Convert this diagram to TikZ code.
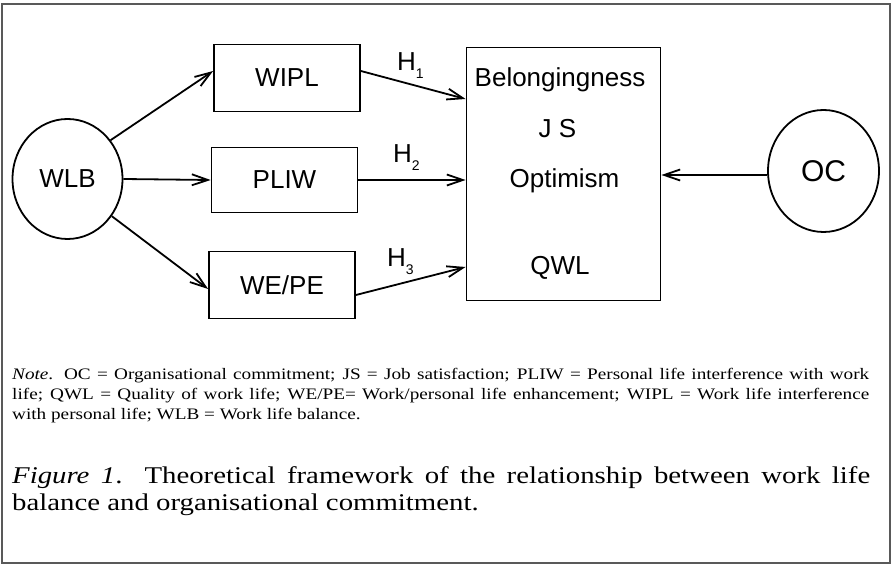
\documentclass[tikz,border=0pt]{standalone}
\usepackage{fontspec}
\setmainfont{Liberation Sans}
\newfontfamily\notefont[FakeStretch = 1.2]{Liberation Serif}
\usetikzlibrary{shapes.geometric, arrows.meta}

\newcommand{\hsub}[1]{H\raisebox{-7.3pt}{\fontsize{14}{14}\selectfont #1}}

\begin{document}
\begin{tikzpicture}[x = 1pt, y = -1pt,
                    latent/.style = {shape = ellipse, draw, line width = 1.8pt,
                                     inner sep = 0pt, font = \fontsize{26}{31}\selectfont},
                    factor/.style = {shape = rectangle, draw, line width = 1.8pt,
                                     inner sep = 0pt, font = \fontsize{26}{31}\selectfont},
                    txt/.style = {inner sep = 0pt, font = \fontsize{26}{31}\selectfont},
                    link/.style = {-{Straight Barb[length = 16pt, width = 11pt]},
                                   line width = 1.8pt}]
  \useasboundingbox (0, 0) rectangle (892, 564);
  \draw [line width = 2pt, black!65] (2, 3.7) rectangle (889.5, 562.8);

  \node [latent, minimum width = 110pt, minimum height = 120pt] (wlb) at (67.5, 179) {WLB};
  \node [latent, minimum width = 111pt, minimum height = 122pt,
         font = \fontsize{30}{36}\selectfont] (oc) at (823.5, 171) {OC};

  \node [factor, minimum width = 146pt, minimum height = 67pt] (wipl) at (287, 78) {WIPL};
  \node [factor, minimum width = 146pt, minimum height = 65pt] (pliw) at (284.5, 180) {PLIW};
  \node [factor, minimum width = 146pt, minimum height = 67pt] (wepe) at (282, 285) {WE/PE};

  % outcome box
  \node [factor, minimum width = 194pt, minimum height = 253pt] (qol) at (563.5, 174) {};
  \node [txt, anchor = base] (belong) at (560, 87) {Belongingness};
  \node [txt, anchor = base] (js)     at (557.5, 138) {J S};
  \node [txt, anchor = base] (optim)  at (564.5, 188) {Optimism};
  \node [txt, anchor = base] (qwl)    at (560, 275) {QWL};

  \node [txt, anchor = base west] (h1) at (397, 71)  {\hsub{1}};
  \node [txt, anchor = base west] (h2) at (393, 163) {\hsub{2}};
  \node [txt, anchor = base west] (h3) at (387, 267) {\hsub{3}};

  \coordinate (ocin) at ([yshift = -4pt]oc.west);
  \draw [link] (wlb.42)  -- ([yshift = 7pt]wipl.west);
  \draw [link] (wlb.east) -- (pliw.west);
  \draw [link] (wlb.-40) -- ([yshift = -4pt]wepe.west);
  \draw [link] ([yshift = 7pt]wipl.east)  -- ([yshift = 75pt]qol.west);
  \draw [link] (pliw.east) -- (qol.west |- pliw.east);
  \draw [link] ([yshift = -10pt]wepe.east) -- ([yshift = -93pt]qol.west);
  \draw [link] (ocin) -- (qol.east |- ocin);

  % note and caption
  \node [anchor = north west, inner sep = 0pt, text width = 857pt, align = justify,
         font = \notefont\fontsize{16}{20}\selectfont] (note) at (12, 368)
        {\textit{Note}. OC = Organisational commitment; JS = Job satisfaction; PLIW = Personal life interference with work\linebreak
         life; QWL = Quality of work life; WE/PE= Work/personal life enhancement; WIPL = Work life interference\linebreak
         with personal life; WLB = Work life balance.};
  \node [anchor = north west, inner sep = 0pt, text width = 858pt, align = justify,
         font = \notefont\fontsize{24}{27}\selectfont] (caption) at (12, 466.5)
        {\textit{Figure 1}. Theoretical framework of the relationship between work life\linebreak
         balance and organisational commitment.};
\end{tikzpicture}
\end{document}
